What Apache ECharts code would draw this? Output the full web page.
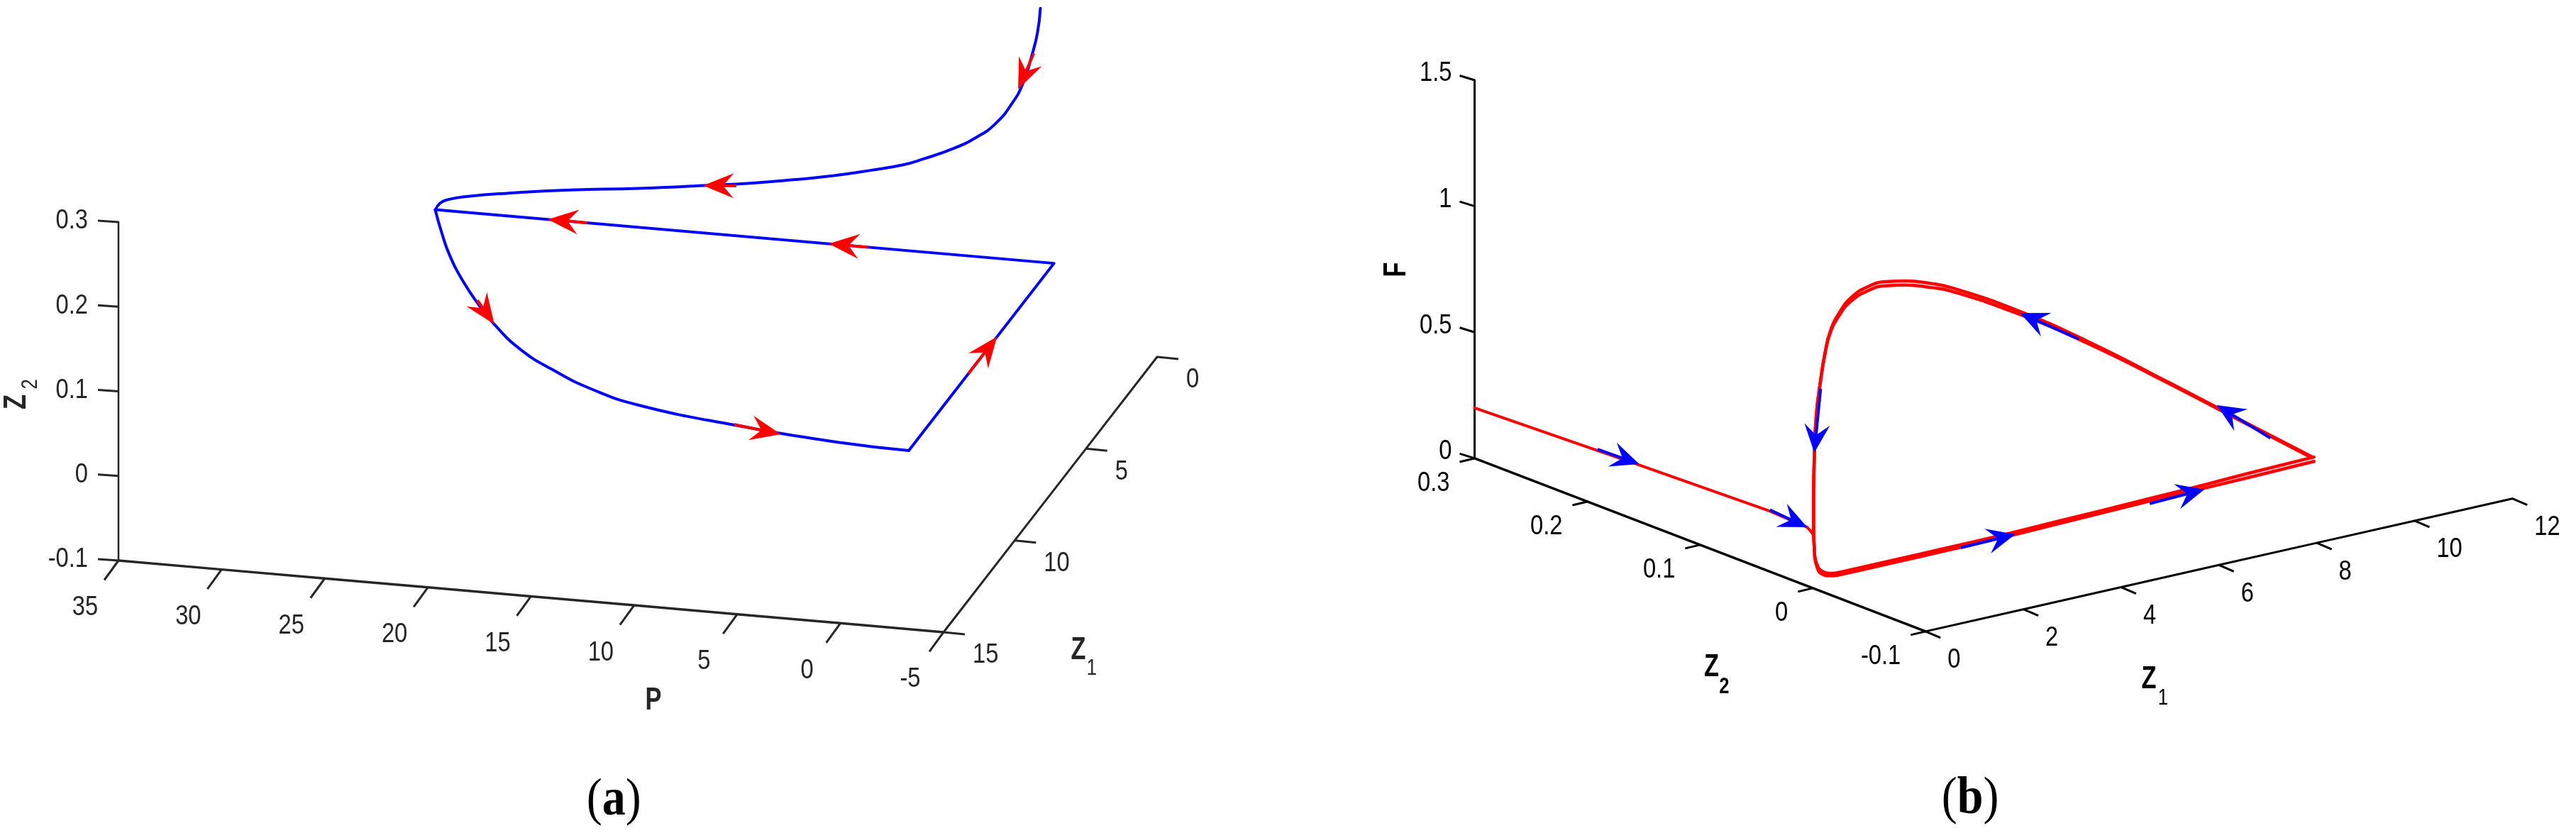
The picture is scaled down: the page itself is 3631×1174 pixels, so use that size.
<!DOCTYPE html>
<html lang="en">
<head>
<meta charset="UTF-8">
<title>Limit cycle phase portraits</title>
<script src="https://cdn.jsdelivr.net/npm/echarts@6/dist/echarts.min.js"></script>
<style>
    html, body { margin: 0; background: #fff; }
    #main { width: 3631px; height: 1174px; }
</style>
</head>
<body>
<div id="main"></div>
<script>
// ---- panel (a): P, Z1, Z2 ----
var pTicks = [35, 30, 25, 20, 15, 10, 5, 0, -5];
var aZ1Ticks = [0, 5, 10, 15];
var aZ2Ticks = [0.3, 0.2, 0.1, 0, -0.1];

// transient coming down from the top, Z1 stays 0
var inP = [0.66, 0.80, 1.09, 1.51, 2.08, 2.84, 3.70, 4.91, 6.38, 7.31, 8.90, 10.67, 12.64, 14.60, 16.98, 20.14, 23.46, 26.42, 28.40, 29.39, 29.77, 29.98];
var inZ1 = [0, 0, 0, 0, 0, 0, 0, 0, 0, 0, 0, 0, 0, 0, 0, 0, 0, 0, 0, 0, 0, 0];
var inZ2 = [0.300, 0.271, 0.242, 0.209, 0.183, 0.159, 0.142, 0.125, 0.1095, 0.101, 0.091, 0.081, 0.072, 0.064, 0.056, 0.046, 0.037, 0.027, 0.019, 0.013, 0.008, 0];

// curved side of the cycle, Z2 stays 0
var arcP = [30, 28.85, 27.72, 26.19, 24.65, 23.38, 21.24, 18.98, 16.61, 13.87, 8.72, 3.31, 0];
var arcZ1 = [0, 1.19, 2.28, 3.55, 4.68, 5.53, 6.74, 7.67, 8.46, 9.08, 9.68, 10.10, 10.20];
var arcZ2 = [0, 0, 0, 0, 0, 0, 0, 0, 0, 0, 0, 0, 0];

// straight sides: C -> A -> B
var edgeP = [0, 0, 30];
var edgeZ1 = [10.20, 0, 0];
var edgeZ2 = [0, 0, 0];

// arrows as [tail P, Z1, Z2, tip P, Z1, Z2]
var aArrows = [
    [0.98, 0, 0.246, 1.74, 0, 0.202],
    [15.40, 0, 0.059, 17.01, 0, 0.056],
    [9.00, 0, 0, 10.92, 0, 0],
    [22.65, 0, 0, 24.54, 0, 0],
    [24.89, 4.44, 0, 23.27, 5.59, 0],
    [8.85, 9.64, 0, 6.38, 9.94, 0],
    [0, 6.00, 0, 0, 4.00, 0]
];

// ---- panel (b): Z1, Z2, F ----
var fTicks = [1.5, 1, 0.5, 0];
var bZ1Ticks = [0, 2, 4, 6, 8, 10, 12];
var bZ2Ticks = [0.3, 0.2, 0.1, 0, -0.1];

// transient along Z2
var leadZ1 = [0, 0, 0, 0, 0.005, 0.015];
var leadZ2 = [0.3, 0.154, 0.038, 0.005, 0.002, 0];
var leadF = [0.200, 0.224, 0.240, 0.233, 0.222, 0.208];

// cycle is drawn twice, the two turns nearly overlap
var lowZ1 = [0.015, 0.03, 0.04, 0.09, 0.16, 0.36, 0.65, 1.74, 2.58, 4.05, 5.01, 6.91, 7.97, 9.03, 10.25];
var lowF1 = [0.208, 0.159, 0.120, 0.078, 0.052, 0.033, 0.029, 0.029, 0.029, 0.031, 0.035, 0.043, 0.045, 0.048, 0.053];
var lowF2 = [0.208, 0.159, 0.124, 0.088, 0.064, 0.043, 0.039, 0.039, 0.039, 0.041, 0.045, 0.053, 0.058, 0.065, 0.070];
var upZ1 = [10.20, 8.71, 7.31, 5.60, 4.14, 2.83, 2.41, 1.90, 1.49, 1.12, 0.78, 0.54, 0.36, 0.25, 0.16, 0.07, 0.03, 0.015, 0.015];
var upF1 = [0.074, 0.289, 0.492, 0.735, 0.923, 1.068, 1.103, 1.135, 1.150, 1.146, 1.118, 1.068, 1.005, 0.923, 0.819, 0.681, 0.511, 0.362, 0.208];
var upF2 = [0.070, 0.285, 0.488, 0.727, 0.911, 1.054, 1.087, 1.119, 1.134, 1.130, 1.104, 1.058, 0.999, 0.919, 0.817, 0.681, 0.511, 0.362, 0.208];

// arrows as [tail Z1, Z2, F, tip Z1, Z2, F]
var bArrows = [
    [0, 0.191, 0.223, 0, 0.154, 0.228],
    [0, 0.038, 0.245, 0, 0.005, 0.233],
    [0.16, 0, 0.784, 0.03, 0, 0.536],
    [3.03, 0, 0.027, 4.14, 0, 0.032],
    [6.89, 0, 0.033, 8.01, 0, 0.040],
    [9.36, 0, 0.184, 8.26, 0, 0.363],
    [5.44, 0, 0.749, 4.24, 0, 0.905]
];

// oblique projections, same scales as the walls of each plot
function projA(p, z1, z2) {
    return [p - (15 - z1) * 0.6903, z2 - (35 - p) * 0.002117 + (15 - z1) * 0.02169];
}
function projB(z1, z2, f) {
    return [z1 - 23.06 * (z2 - 0.3), f + 0.0439 * z1 + 1.7168 * (z2 - 0.3)];
}

function zip3(proj, a, b, c) {
    return a.map(function (v, i) { return proj(v, b[i], c[i]); });
}

var AX_A = '#262626', AX_B = '#000000';
var SANS = '"Liberation Sans", Arial, sans-serif';
var SERIF = '"Liberation Serif", "Times New Roman", serif';

function lineSeries(idx, pts, color, width, smooth) {
    return {
        type: 'line', xAxisIndex: idx, yAxisIndex: idx, data: pts,
        showSymbol: false, symbol: 'none', clip: false, silent: true,
        smooth: smooth || false, z: 3,
        lineStyle: { color: color, width: width, join: 'round', cap: 'round' }
    };
}

function tickSeries(idx, pts, dx, dy, color, width) {
    return {
        type: 'custom', xAxisIndex: idx, yAxisIndex: idx, data: pts, clip: false, silent: true, z: 2,
        encode: { x: 0, y: 1 },
        renderItem: function (params, api) {
            var c = api.coord([api.value(0), api.value(1)]);
            return {
                type: 'line',
                shape: { x1: c[0], y1: c[1], x2: c[0] + dx, y2: c[1] + dy },
                style: { stroke: color, lineWidth: width, fill: null }
            };
        }
    };
}

// texts: each item has anchor pos (data), text, dx, dy and style bits
function textSeries(idx, items) {
    return {
        type: 'custom', xAxisIndex: idx, yAxisIndex: idx, clip: false, silent: true, z: 5,
        data: items.map(function (t) { return t.pos; }),
        encode: { x: 0, y: 1 },
        renderItem: function (params, api) {
            var t = items[params.dataIndex];
            var c = api.coord([api.value(0), api.value(1)]);
            return {
                type: 'text',
                x: c[0] + t.dx, y: c[1] + t.dy,
                scaleX: t.sx || 1,
                rotation: t.rot || 0,
                style: {
                    text: t.text, fill: t.color, font: t.font,
                    textAlign: t.align || 'center', textVerticalAlign: 'middle',
                    rich: t.rich
                }
            };
        }
    };
}

function tickLabels(proj3, vals, dx, dy, align, color) {
    return vals.map(function (v) {
        return { pos: proj3(v), text: String(v), dx: dx, dy: dy, align: align, color: color, sx: 0.86, font: '38px ' + SANS };
    });
}

function arrowSeries(idx, proj, arrows, color, headLen, headHalf, notch, shaft) {
    return {
        type: 'custom', xAxisIndex: idx, yAxisIndex: idx, clip: false, silent: true, z: 4,
        data: arrows.map(function (a) {
            return proj(a[0], a[1], a[2]).concat(proj(a[3], a[4], a[5]));
        }),
        encode: { x: [0, 2], y: [1, 3] },
        renderItem: function (params, api) {
            var s = api.coord([api.value(0), api.value(1)]);
            var e = api.coord([api.value(2), api.value(3)]);
            var len = Math.sqrt((e[0] - s[0]) * (e[0] - s[0]) + (e[1] - s[1]) * (e[1] - s[1]));
            var ux = (e[0] - s[0]) / len, uy = (e[1] - s[1]) / len;
            var bx = e[0] - ux * headLen, by = e[1] - uy * headLen;
            var nx = e[0] - ux * notch, ny = e[1] - uy * notch;
            return {
                type: 'group',
                children: [
                    { type: 'line', shape: { x1: s[0], y1: s[1], x2: nx, y2: ny }, style: { stroke: color, lineWidth: shaft } },
                    { type: 'polygon', shape: { points: [e, [bx - uy * headHalf, by + ux * headHalf], [nx, ny], [bx + uy * headHalf, by - ux * headHalf]] }, style: { fill: color } }
                ]
            };
        }
    };
}

// ---- build panel (a) ----
function pA(p) { return projA(p, 15, -0.1); }
function z1A(z) { return projA(-5, z, -0.1); }
function z2A(z) { return projA(35, 15, z); }

var boldZ = 'bold 44px ' + SANS;
var captionFont = '75px ' + SERIF;
var captionRich = { n: { font: captionFont, fill: '#000' }, b: { font: 'bold ' + captionFont, fill: '#000' } };
var textsA = []
    .concat(tickLabels(pA, pTicks, -47, 67, 'center', AX_A))
    .concat(tickLabels(z1A, aZ1Ticks, 41, 33, 'left', AX_A))
    .concat(tickLabels(z2A, aZ2Ticks, -43, -1, 'right', AX_A))
    .concat([
        { pos: pA(10), text: 'P', dx: 27, dy: 135, color: AX_A, font: boldZ, sx: 0.78 },
        { pos: z1A(15), text: 'Z', dx: 190, dy: 26, color: AX_A, font: boldZ, sx: 0.78 },
        { pos: z1A(15), text: '1', dx: 209, dy: 51, color: AX_A, font: '32px ' + SANS, sx: 0.8 },
        { pos: z2A(0.1), text: 'Z', dx: -143, dy: 15, color: AX_A, font: boldZ, sx: 0.78, rot: Math.PI / 2 },
        { pos: z2A(0.1), text: '2', dx: -124, dy: -10, color: AX_A, font: '32px ' + SANS, sx: 0.8, rot: Math.PI / 2 },
        { pos: pA(5), text: '{n|(}{b|a}{n|)}', dx: -174, dy: 263, color: '#000', font: captionFont, sx: 0.88, rich: captionRich }
    ]);

var seriesA = [
    lineSeries(0, pTicks.map(pA), AX_A, 3.5),
    lineSeries(0, aZ1Ticks.map(z1A), AX_A, 3),
    lineSeries(0, aZ2Ticks.map(z2A), AX_A, 2.5),
    tickSeries(0, pTicks.map(pA), -20, 27.5, AX_A, 3),
    tickSeries(0, aZ1Ticks.map(z1A), 30, 3, AX_A, 3),
    tickSeries(0, aZ2Ticks.map(z2A), -29, -2, AX_A, 3),
    lineSeries(0, zip3(projA, inP, inZ1, inZ2), '#0000ff', 4, 0.5),
    lineSeries(0, zip3(projA, arcP, arcZ1, arcZ2), '#0000ff', 4, 0.5),
    lineSeries(0, zip3(projA, edgeP, edgeZ1, edgeZ2), '#0000ff', 4),
    arrowSeries(0, projA, aArrows, '#ff0000', 43, 17.5, 28, 4),
    textSeries(0, textsA)
];

// ---- build panel (b) ----
function z1B(z) { return projB(z, -0.1, 0); }
function z2B(z) { return projB(0, z, 0); }
function fB(f) { return projB(0, 0.3, f); }
function zeros(arr) { return arr.map(function () { return 0; }); }

var textsB = []
    .concat(tickLabels(z1B, bZ1Ticks, 31, 41, 'left', AX_B))
    .concat(tickLabels(z2B, bZ2Ticks, -35, 36, 'right', AX_B))
    .concat(tickLabels(fB, fTicks, -32, -9, 'right', AX_B))
    .concat([
        { pos: z1B(4), text: 'Z', dx: 39, dy: 130, color: AX_B, font: boldZ, sx: 0.78 },
        { pos: z1B(4), text: '1', dx: 59, dy: 157, color: AX_B, font: '32px ' + SANS, sx: 0.8 },
        { pos: z2B(0.1), text: 'Z', dx: 16, dy: 173, color: AX_B, font: boldZ, sx: 0.78 },
        { pos: z2B(0.1), text: '2', dx: 34, dy: 200, color: AX_B, font: 'bold 32px ' + SANS, sx: 0.8 },
        { pos: fB(1), text: 'F', dx: -109.5, dy: 89.5, color: AX_B, font: boldZ, sx: 0.78, rot: Math.PI / 2 },
        { pos: z1B(2), text: '{n|(}{b|b}{n|)}', dx: -75, dy: 268, color: '#000', font: captionFont, sx: 0.88, rich: captionRich }
    ]);

var seriesB = [
    lineSeries(1, bZ1Ticks.map(z1B), AX_B, 3),
    lineSeries(1, bZ2Ticks.map(z2B), AX_B, 3.5),
    lineSeries(1, fTicks.map(fB), AX_B, 3),
    tickSeries(1, bZ1Ticks.map(z1B), 21, 9, AX_B, 3),
    tickSeries(1, bZ2Ticks.map(z2B), -21, 5, AX_B, 3),
    tickSeries(1, fTicks.map(fB), -21, -6.5, AX_B, 3),
    lineSeries(1, zip3(projB, leadZ1, leadZ2, leadF), '#ff0000', 4),
    lineSeries(1, zip3(projB, lowZ1, zeros(lowZ1), lowF1), '#ff0000', 4.5, 0.5),
    lineSeries(1, zip3(projB, lowZ1, zeros(lowZ1), lowF2), '#ff0000', 4.5, 0.5),
    lineSeries(1, zip3(projB, upZ1, zeros(upZ1), upF1), '#ff0000', 4.5, 0.5),
    lineSeries(1, zip3(projB, upZ1, zeros(upZ1), upF2), '#ff0000', 4.5, 0.5),
    arrowSeries(1, projB, bArrows, '#0000ff', 40, 18, 25, 4),
    textSeries(1, textsB)
];

var chart = echarts.init(document.getElementById('main'), null, { renderer: 'canvas' });
chart.setOption({
    animation: false,
    backgroundColor: '#ffffff',
    // left grid runs past the P = -5 wall so the Z1 = 0 side of the box stays in range
    grid: [
        { left: 167, top: 313, width: 1482.8, height: 477 },
        { left: 2078.5, top: 113, width: 1462.5, height: 777 }
    ],
    xAxis: [
        { type: 'value', gridIndex: 0, min: -16, max: 35, inverse: true, show: false },
        { type: 'value', gridIndex: 1, min: 0, max: 21.22, show: false }
    ],
    yAxis: [
        { type: 'value', gridIndex: 0, min: -0.1, max: 0.3, show: false },
        { type: 'value', gridIndex: 1, min: -0.687, max: 1.5, show: false }
    ],
    series: seriesA.concat(seriesB)
});
</script>
</body>
</html>
